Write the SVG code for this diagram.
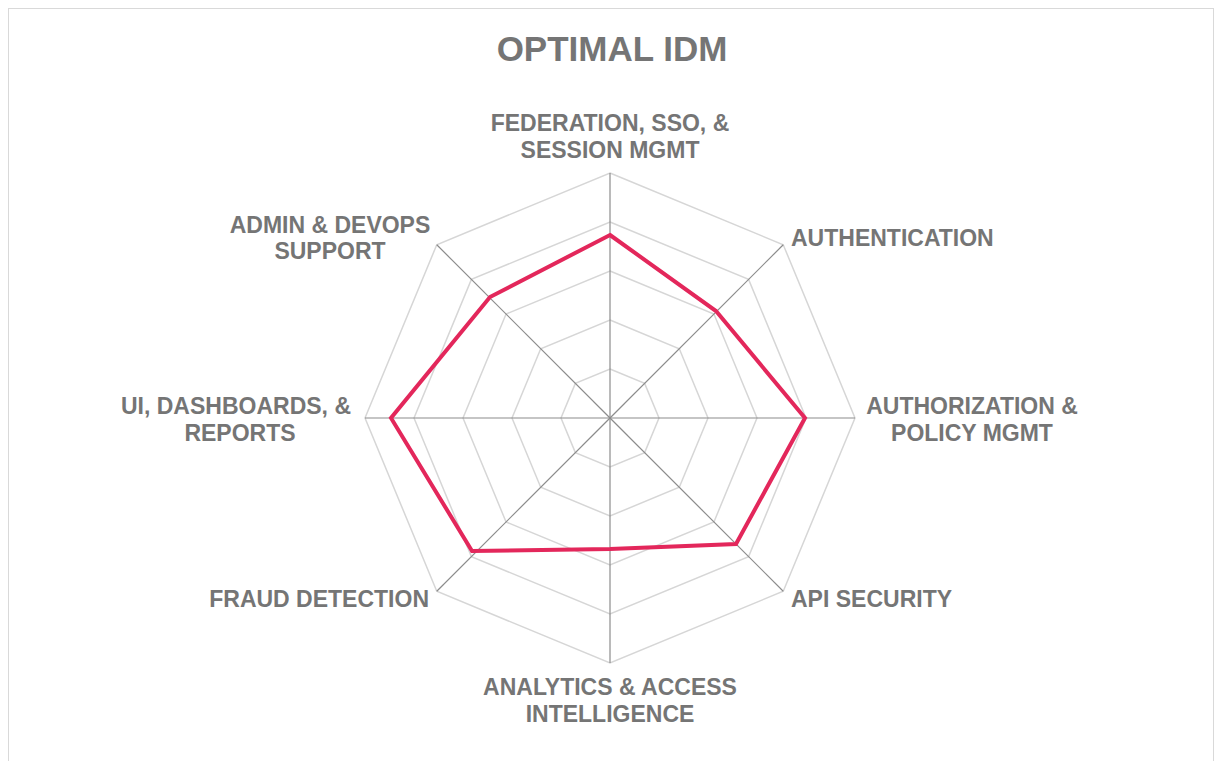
<svg xmlns="http://www.w3.org/2000/svg" width="1221" height="761" viewBox="0 0 1221 761">
<style>
.ring{fill:none;stroke:#d6d6d6;stroke-width:1.5}
.axis{stroke:#8c8c8c;stroke-width:1.2}
.lbl{font-family:"Liberation Sans",Arial,sans-serif;font-weight:bold;font-size:23px;fill:#757575}
.title{font-family:"Liberation Sans",Arial,sans-serif;font-weight:bold;font-size:35px;fill:#757575}
.data{fill:none;stroke:#e3275b;stroke-width:4;stroke-linejoin:miter}
</style>
<rect x="0" y="0" width="1221" height="761" fill="#ffffff"/>
<rect x="8.5" y="8.5" width="1205" height="770" fill="none" stroke="#d9d9d9" stroke-width="1"/>
<text class="title" x="612" y="61" text-anchor="middle">OPTIMAL IDM</text>
<g id="grid">
<polygon class="ring" points="610,369 644.65,383.35 659,418 644.65,452.65 610,467 575.35,452.65 561,418 575.35,383.35"/>
<polygon class="ring" points="610,320 679.3,348.7 708,418 679.3,487.3 610,516 540.7,487.3 512,418 540.7,348.7"/>
<polygon class="ring" points="610,271 713.94,314.06 757,418 713.94,521.94 610,565 506.06,521.94 463,418 506.06,314.06"/>
<polygon class="ring" points="610,222 748.59,279.41 806,418 748.59,556.59 610,614 471.41,556.59 414,418 471.41,279.41"/>
<polygon class="ring" points="610,173 783.24,244.76 855,418 783.24,591.24 610,663 436.76,591.24 365,418 436.76,244.76"/>
</g>
<g id="connectors">
<line class="axis" x1="610" y1="418" x2="610" y2="173"/>
<line class="axis" x1="610" y1="418" x2="783.24" y2="244.76"/>
<line class="axis" x1="610" y1="418" x2="855" y2="418"/>
<line class="axis" x1="610" y1="418" x2="783.24" y2="591.24"/>
<line class="axis" x1="610" y1="418" x2="610" y2="663"/>
<line class="axis" x1="610" y1="418" x2="436.76" y2="591.24"/>
<line class="axis" x1="610" y1="418" x2="365" y2="418"/>
<line class="axis" x1="610" y1="418" x2="436.76" y2="244.76"/>
</g>
<g id="series">
<polygon class="data" points="610,235 716,311 805,418 736,544 610,549 472,551 391,418 490,297"/>
</g>
<g id="label-federation">
<text class="lbl" x="610" y="131" text-anchor="middle">FEDERATION, SSO, &amp;</text>
<text class="lbl" x="610" y="158" text-anchor="middle">SESSION MGMT</text>
</g>
<g id="label-authentication">
<text class="lbl" x="791" y="246">AUTHENTICATION</text>
</g>
<g id="label-authorization">
<text class="lbl" x="972" y="414" text-anchor="middle">AUTHORIZATION &amp;</text>
<text class="lbl" x="972" y="441" text-anchor="middle">POLICY MGMT</text>
</g>
<g id="label-api">
<text class="lbl" x="791" y="607">API SECURITY</text>
</g>
<g id="label-analytics">
<text class="lbl" x="610" y="695" text-anchor="middle">ANALYTICS &amp; ACCESS</text>
<text class="lbl" x="610" y="722" text-anchor="middle">INTELLIGENCE</text>
</g>
<g id="label-fraud">
<text class="lbl" x="429" y="607" text-anchor="end">FRAUD DETECTION</text>
</g>
<g id="label-ui">
<text class="lbl" x="236" y="414" text-anchor="middle">UI, DASHBOARDS, &amp;</text>
<text class="lbl" x="240" y="441" text-anchor="middle">REPORTS</text>
</g>
<g id="label-admin">
<text class="lbl" x="330" y="233" text-anchor="middle">ADMIN &amp; DEVOPS</text>
<text class="lbl" x="330" y="259" text-anchor="middle">SUPPORT</text>
</g>
</svg>
